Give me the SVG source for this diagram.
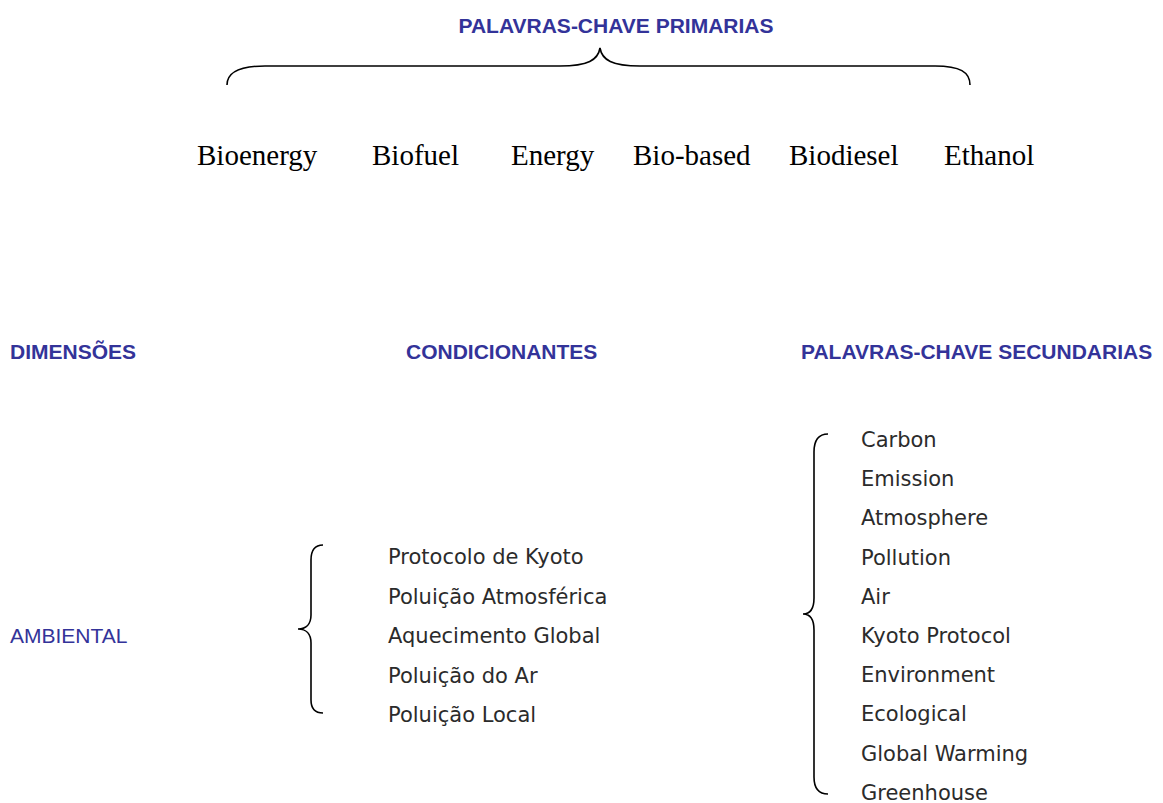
<svg xmlns="http://www.w3.org/2000/svg" width="1163" height="803" viewBox="0 0 1163 803">
<style>
.hdr{font-family:"Liberation Sans",Arial,sans-serif;font-weight:bold;font-size:21px;fill:#333399}
.dim{font-family:"Liberation Sans",Arial,sans-serif;font-size:21px;fill:#333399}
.kw{font-family:"Liberation Serif","Times New Roman",serif;font-size:29px;fill:#000}
.it{font-family:"DejaVu Sans",sans-serif;font-size:21px;fill:#2b2b2b}
.brace{fill:none;stroke:#000;stroke-width:1.6}
</style>
<rect width="1163" height="803" fill="#fff"/>
<g id="title"><text class="hdr" x="616" y="33" text-anchor="middle">PALAVRAS-CHAVE PRIMARIAS</text></g>
<g id="primary">
<text class="kw" x="197" y="165">Bioenergy</text>
<text class="kw" x="372" y="165">Biofuel</text>
<text class="kw" x="511" y="165">Energy</text>
<text class="kw" x="633" y="165">Bio-based</text>
<text class="kw" x="789" y="165">Biodiesel</text>
<text class="kw" x="944" y="165">Ethanol</text>
</g>
<g id="headers">
<text class="hdr" x="10" y="359">DIMENSÕES</text>
<text class="hdr" x="406" y="359">CONDICIONANTES</text>
<text class="hdr" x="801" y="359">PALAVRAS-CHAVE SECUNDARIAS</text>
</g>
<g id="dimension"><text class="dim" x="10" y="643">AMBIENTAL</text></g>
<g id="condicionantes">
<text class="it" x="388" y="564">Protocolo de Kyoto</text>
<text class="it" x="388" y="603.5">Poluição Atmosférica</text>
<text class="it" x="388" y="643">Aquecimento Global</text>
<text class="it" x="388" y="682.5">Poluição do Ar</text>
<text class="it" x="388" y="722">Poluição Local</text>
</g>
<g id="secundarias">
<text class="it" x="861" y="447">Carbon</text>
<text class="it" x="861" y="486.2">Emission</text>
<text class="it" x="861" y="525.4">Atmosphere</text>
<text class="it" x="861" y="564.6">Pollution</text>
<text class="it" x="861" y="603.8">Air</text>
<text class="it" x="861" y="643">Kyoto Protocol</text>
<text class="it" x="861" y="682.2">Environment</text>
<text class="it" x="861" y="721.4">Ecological</text>
<text class="it" x="861" y="760.6">Global Warming</text>
<text class="it" x="861" y="799.8">Greenhouse</text>
</g>
<g id="connectors">
<path class="brace" d="M227,85 C227,72 240,66 265,66 L560,66 C588,66 598,60 600,48 C602,60 612,66 640,66 L935,66 C960,66 970,72 970,85"/>
<path class="brace" d="M323,545 C315,545 311,550 311,560 L311,615 C311,624 306,629 298,629 C306,629 311,634 311,643 L311,700 C311,709 315,713 323,713"/>
<path class="brace" d="M828,434 C819,434 814,440 814,452 L814,598 C814,609 810,614 803,614 C810,614 814,619 814,630 L814,777 C814,789 819,794 828,794"/>
</g>
</svg>
